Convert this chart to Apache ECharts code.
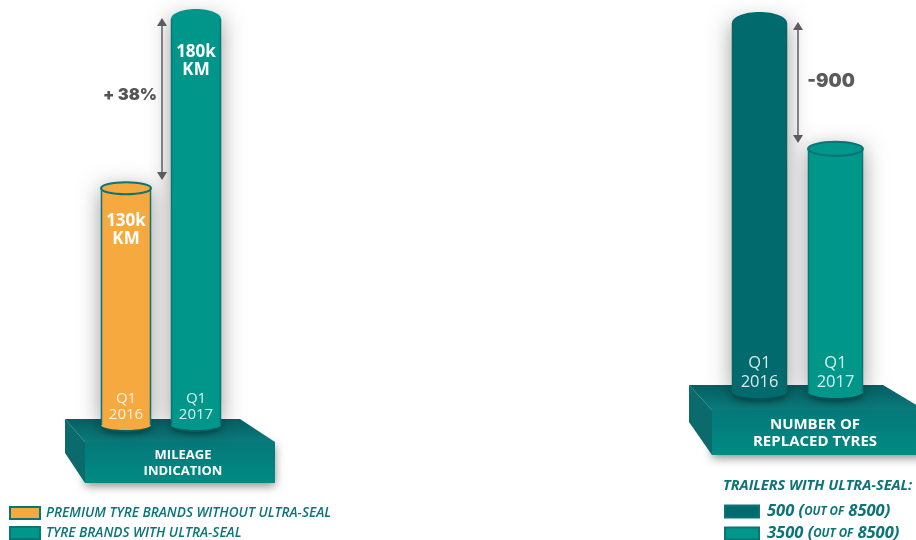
<!DOCTYPE html>
<html><head><meta charset="utf-8">
<style>html,body{margin:0;padding:0;background:#fff}#c{width:916px;height:540px}</style>
<script src="https://cdn.jsdelivr.net/npm/echarts@6/dist/echarts.min.js"></script>
</head><body><div id="c"></div>
<script>
const periods = ['Q1\n2016', 'Q1\n2017'];
const mileageKm = [130, 180];
const mileageLabels = ['130k\nKM', '180k\nKM'];
const replacedTyres = [2640, 1740];
const mileageNames = ['PREMIUM TYRE BRANDS WITHOUT ULTRA-SEAL', 'TYRE BRANDS WITH ULTRA-SEAL'];
const trailerNames = ['500 (OUT OF 8500)', '3500 (OUT OF 8500)'];

const FONT = '"Open Sans", sans-serif';
const TEAL = '#00968a', DARK = '#006a6d', ORANGE = '#f6a93f', EDGE = '#0b7476', TXT = '#0a7478';

function cylinder(cfg) {
  return function (params, api) {
    const cat = api.value(0), val = api.value(1);
    const p = api.coord([cat, val]);
    const b = api.coord([cat, cfg.min]);
    const w = api.size([1, 0])[0] * cfg.ratio;
    const x = p[0] - w / 2, rx = w / 2;
    const lid = val < cfg.max;
    const ry = lid ? cfg.lidRy : cfg.domeRy;
    const fill = cfg.colors[cat];
    const bodyShape = { x: x, y: p[1], width: w, height: b[1] - p[1] };
    const children = [
      { type: 'ellipse', shape: { cx: p[0], cy: b[1], rx: rx, ry: cfg.baseRy },
        style: { fill: cfg.baseColors[cat], shadowBlur: 6, shadowColor: 'rgba(0,0,0,.35)', shadowOffsetY: 2 } },
      { type: 'rect', shape: bodyShape,
        style: { fill: fill, shadowBlur: 22, shadowColor: 'rgba(0,0,0,.4)' } },
      { type: 'ellipse', shape: { cx: p[0], cy: b[1], rx: rx, ry: cfg.baseRy - 2 }, style: { fill: fill } },
      { type: 'ellipse', shape: { cx: p[0], cy: p[1], rx: rx, ry: ry },
        style: { fill: fill, stroke: lid ? cfg.lidEdge[cat] : fill, lineWidth: lid ? 2 : 0 } },
      { type: 'line', shape: { x1: x + .5, y1: p[1], x2: x + .5, y2: b[1] },
        style: { stroke: cfg.lidEdge[cat], lineWidth: 1.5 } },
      { type: 'line', shape: { x1: x + w - .5, y1: p[1], x2: x + w - .5, y2: b[1] },
        style: { stroke: cfg.lidEdge[cat], lineWidth: 1.5 } }
    ];
    if (cfg.labels) {
      children.push({ type: 'text', style: { x: p[0], y: p[1] + 24, text: cfg.labels[cat], fill: '#fff',
        font: 'bold 17px ' + FONT, lineHeight: 18, align: 'center', verticalAlign: 'top' } });
    }
    return { type: 'group', children: children };
  };
}

const leftCfg = { ratio: 50 / 70, min: 60, max: 180, lidRy: 6, domeRy: 10, baseRy: 7,
  colors: [ORANGE, TEAL], baseColors: ['#0d6a6b', '#0d6a6b'], lidEdge: [EDGE, EDGE], labels: mileageLabels };
const rightCfg = { ratio: 55 / 76, min: 0, max: 2640, lidRy: 7, domeRy: 11, baseRy: 8,
  colors: [DARK, TEAL], baseColors: ['#0a5a5e', '#0a5a5e'], lidEdge: ['#0a6366', EDGE], labels: null };

function catAxis(i, size, lh, margin) {
  return { type: 'category', gridIndex: i, data: periods, z: 10,
    axisLine: { show: false }, axisTick: { show: false },
    axisLabel: { inside: true, margin: margin, color: 'rgba(255,255,255,.85)', fontFamily: FONT,
      fontSize: size, lineHeight: lh, interval: 0 } };
}
function arrow(x, y1, y2) {
  const c = '#5c5c5c', s = 5, h = 8;
  return [
    { type: 'line', z: 20, shape: { x1: x, y1: y1 + h, x2: x, y2: y2 - h }, style: { stroke: c, lineWidth: 1.5 } },
    { type: 'polygon', z: 20, shape: { points: [[x, y1], [x - s, y1 + h], [x + s, y1 + h]] }, style: { fill: c } },
    { type: 'polygon', z: 20, shape: { points: [[x, y2], [x - s, y2 - h], [x + s, y2 - h]] }, style: { fill: c } }
  ];
}
const grad = (a, b) => ({ type: 'linear', x: 0, y: 0, x2: 0, y2: 1, colorStops: [{ offset: 0, color: a }, { offset: 1, color: b }] });
function platform(top, side, front) {
  return [
    { type: 'polygon', z: 1, shape: { points: front }, style: { fill: grad('#05787a', '#008b84'), shadowBlur: 9, shadowColor: 'rgba(0,0,0,.45)', shadowOffsetY: 3 } },
    { type: 'polygon', z: 1, shape: { points: side }, style: { fill: '#0a6a6c' } },
    { type: 'polygon', z: 1, shape: { points: top }, style: { fill: grad('#055f63', '#0a7b7b') } }
  ];
}
function label(x, y, text, font, fill, align, lh) {
  return { type: 'text', z: 30, style: { x: x, y: y, text: text, font: font, fill: fill, align: align || 'center', verticalAlign: 'middle', lineHeight: lh } };
}

const chart = echarts.init(document.getElementById('c'), null, { renderer: 'canvas' });
chart.setOption({
  animation: false,
  backgroundColor: '#fff',
  grid: [
    { left: 91, width: 140, top: 19, height: 406 },
    { left: 721.5, width: 152, top: 23, height: 369 }
  ],
  xAxis: [catAxis(0, 15, 16, 2), catAxis(1, 16.5, 19, 0.5)],
  yAxis: [
    { type: 'value', gridIndex: 0, min: 60, max: 180, show: false },
    { type: 'value', gridIndex: 1, min: 0, max: 2640, show: false }
  ],
  legend: [
    { data: mileageNames, orient: 'vertical', left: 9, top: 506, width: 400, height: 60, itemWidth: 30, itemHeight: 12, itemGap: 6, selectedMode: false,
      icon: 'rect', padding: 0,
      textStyle: { fontFamily: FONT, fontSize: 13.6, fontStyle: 'italic', fontWeight: 600, color: TXT, padding: [0, 0, 0, 1] } },
    { data: trailerNames, orient: 'vertical', left: 724, top: 503, width: 190, height: 60, itemWidth: 34, itemHeight: 12, itemGap: 5, selectedMode: false,
      icon: 'rect', padding: 0,
      formatter: n => n.replace(/^(\d+ \()OUT OF( \d+\))$/, '{g|}{n|$1}{s|OUT OF}{n|$2}'),
      textStyle: { rich: {
        g: { width: 3, lineHeight: 15 },
        n: { fontFamily: FONT, fontSize: 16.5, lineHeight: 15, fontStyle: 'italic', fontWeight: 700, color: TXT },
        s: { fontFamily: FONT, fontSize: 11.5, lineHeight: 15, fontStyle: 'italic', fontWeight: 700, color: TXT }
      } } }
  ],
  series: [
    { name: mileageNames[0], type: 'custom', xAxisIndex: 0, yAxisIndex: 0, renderItem: cylinder(leftCfg), z: 3,
      itemStyle: { color: ORANGE, borderColor: EDGE, borderWidth: 2 }, data: [[0, mileageKm[0]]] },
    { name: mileageNames[1], type: 'custom', xAxisIndex: 0, yAxisIndex: 0, renderItem: cylinder(leftCfg), z: 3,
      itemStyle: { color: TEAL, borderColor: EDGE, borderWidth: 2 }, data: [[1, mileageKm[1]]] },
    { name: trailerNames[0], type: 'custom', xAxisIndex: 1, yAxisIndex: 1, renderItem: cylinder(rightCfg), z: 3,
      itemStyle: { color: DARK, borderColor: EDGE, borderWidth: 2 }, data: [[0, replacedTyres[0]]] },
    { name: trailerNames[1], type: 'custom', xAxisIndex: 1, yAxisIndex: 1, renderItem: cylinder(rightCfg), z: 3,
      itemStyle: { color: TEAL, borderColor: EDGE, borderWidth: 2 }, data: [[1, replacedTyres[1]]] }
  ],
  graphic: [
    ...platform([[65, 419], [240, 419], [275, 442], [85, 442]], [[65, 419], [85, 442], [85, 483], [65, 453]], [[85, 442], [275, 442], [275, 483], [85, 483]]),
    ...platform([[689, 385], [883, 385], [925, 410], [712, 410]], [[689, 385], [712, 410], [712, 455], [689, 422]], [[712, 410], [925, 410], [925, 455], [712, 455]]),
    ...arrow(162, 18, 180),
    ...arrow(798, 22, 143),
    label(130, 95, '+ 38%', '900 16.5px Inter, "DejaVu Sans", sans-serif', '#555'),
    label(831, 81, '-900', '900 18.5px Inter, "DejaVu Sans", sans-serif', '#5c5c5c'),
    label(183, 463, 'MILEAGE\nINDICATION', 'bold 13px ' + FONT, '#fff', 'center', 16),
    label(815, 433, 'NUMBER OF\nREPLACED TYRES', 'bold 15px ' + FONT, '#fff', 'center', 17),
    label(723, 486, 'TRAILERS WITH ULTRA-SEAL:', 'italic 700 14.5px ' + FONT, TXT, 'left')
  ]
});
</script></body></html>
